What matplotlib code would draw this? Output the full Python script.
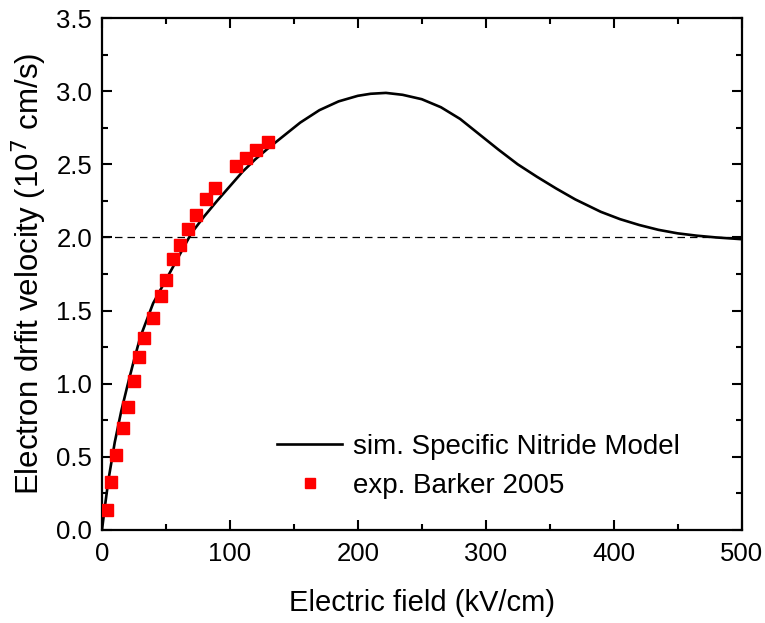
import matplotlib
matplotlib.use("Agg")
import matplotlib.pyplot as plt
from matplotlib.ticker import MultipleLocator, FormatStrFormatter

plt.rcParams["font.family"] = ["Liberation Sans", "DejaVu Sans"]

# simulated drift velocity (specific nitride model)
sim_field = [0, 2, 5, 10, 15, 20, 25, 30, 40, 50, 60, 70, 80, 90, 100,
             110, 120, 130, 140, 155, 170, 185, 200, 210, 222, 235, 250,
             265, 280, 295, 310, 325, 340, 355, 370, 390, 405, 420, 435,
             450, 465, 480, 500]
sim_velocity = [0.0, 0.14, 0.34, 0.60, 0.81, 0.99, 1.16, 1.32, 1.55, 1.71,
                1.87, 2.03, 2.145, 2.25, 2.35, 2.45, 2.535, 2.61, 2.68,
                2.785, 2.87, 2.93, 2.968, 2.982, 2.988, 2.975, 2.945, 2.89,
                2.81, 2.705, 2.60, 2.50, 2.415, 2.335, 2.26, 2.175, 2.125,
                2.085, 2.052, 2.028, 2.012, 2.0, 1.988]

# experimental data (Barker 2005)
exp_field = [3.7, 7.0, 10.9, 16.2, 20.6, 24.8, 28.7, 32.6, 39.8, 45.9, 50.0,
             55.2, 61.3, 67.2, 73.8, 81.0, 88.3, 104.7, 112.3, 120.3, 129.7]
exp_velocity = [0.14, 0.33, 0.51, 0.70, 0.84, 1.02, 1.18, 1.31, 1.45, 1.60,
                1.71, 1.85, 1.95, 2.06, 2.15, 2.26, 2.34, 2.49, 2.54, 2.60,
                2.65]

ref_level = 2.0

fig = plt.figure(figsize=(7.65, 6.23), dpi=100)
ax = fig.add_axes([0.1333, 0.1493, 0.836, 0.8218])

ax.axhline(ref_level, color="black", lw=0.9, ls=(0, (6, 4)), zorder=1)
ax.plot(sim_field, sim_velocity, color="black", lw=1.9,
        label="sim. Specific Nitride Model", zorder=2)
ax.plot(exp_field, exp_velocity, ls="none", marker="s", ms=9,
        color="#ff0000", mec="#ff0000", label="exp. Barker 2005", zorder=3)

ax.set_xlim(0, 500)
ax.set_ylim(0, 3.5)
ax.xaxis.set_major_locator(MultipleLocator(100))
ax.xaxis.set_minor_locator(MultipleLocator(50))
ax.yaxis.set_major_locator(MultipleLocator(0.5))
ax.yaxis.set_minor_locator(MultipleLocator(0.25))
ax.yaxis.set_major_formatter(FormatStrFormatter("%.1f"))

ax.tick_params(which="both", direction="in", top=True, right=True,
               width=1.5, labelsize=18.5)
ax.tick_params(which="major", length=7, pad=7)
ax.tick_params(axis="x", which="major", pad=9)
ax.tick_params(which="minor", length=4)
for s in ax.spines.values():
    s.set_linewidth(1.6)

ax.set_xlabel("Electric field (kV/cm)", fontsize=21, labelpad=16)
ax.set_ylabel("Electron drfit velocity (10$^{7}$ cm/s)", fontsize=22.5,
              labelpad=5)

leg = ax.legend(loc="lower right", bbox_to_anchor=(0.926, 0.034),
                frameon=False, fontsize=20, handlelength=2.35,
                handletextpad=0.4, labelspacing=0.45, borderpad=0,
                markerscale=0.75)

fig.savefig("out.png", dpi=100)
